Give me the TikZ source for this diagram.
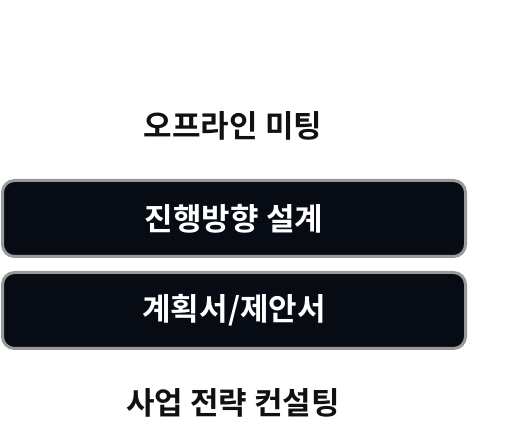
\documentclass[tikz,border=0pt]{standalone}
\usepackage{fontspec}
\newfontfamily\krfont{Noto Sans CJK KR Bold}
\usepackage{xcolor}
\definecolor{boxFill}{HTML}{060B14}
\definecolor{boxEdge}{HTML}{999999}
\definecolor{textDark}{HTML}{111111}

\begin{document}
\begin{tikzpicture}
		[x=1pt,y=1pt,
		boxDecorate/.style={shape=rectangle,rounded corners=12pt,draw=boxEdge,line width=3pt,
			fill=boxFill,minimum width=463pt,minimum height=76pt,inner sep=0pt,
			text=white,font=\krfont\fontsize{31}{33}\selectfont},
		labelDecorate/.style={inner sep=0pt,text=textDark,font=\krfont\fontsize{31}{33}\selectfont}]
		\useasboundingbox (0,0) rectangle (508,444);
		%% plain labels
		\foreach \nodename/\y/\caption in {
			meeting/318/{오프라인 미팅}, consulting/41/{사업 전략 컨설팅}}
		{
			\node (\nodename) at (233,\y) [labelDecorate] {\caption};
		}
		%% dark boxes
		\foreach \nodename/\y/\caption in {
			direction/225.5/{진행방향 설계}, proposal/133.5/{계획서/제안서}}
		{
			\node (\nodename) at (234,\y) [boxDecorate] {\caption};
		}
	\end{tikzpicture}
\end{document}
